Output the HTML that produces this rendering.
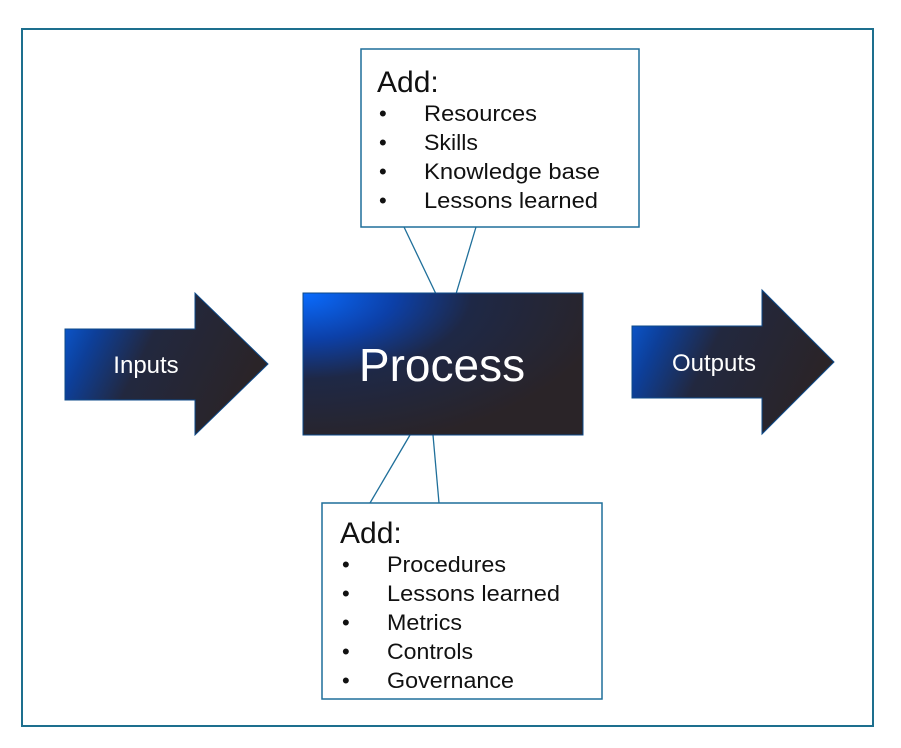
<!DOCTYPE html>
<html><head><meta charset="utf-8"><style>
html,body{margin:0;padding:0;background:#fff;}
svg{display:block;}
text{font-family:"Liberation Sans",Arial,sans-serif;}
</style></head><body>
<svg width="901" height="748" viewBox="0 0 901 748" xmlns="http://www.w3.org/2000/svg">
<defs>
<linearGradient id="g" x1="0" y1="0" x2="1" y2="0.35">
<stop offset="0" stop-color="#0a5fe0"/>
<stop offset="0.22" stop-color="#0d3f99"/>
<stop offset="0.48" stop-color="#22283f"/>
<stop offset="1" stop-color="#2a2428"/>
</linearGradient>
<radialGradient id="pg" cx="0" cy="0" r="1.1" fx="0" fy="0">
<stop offset="0" stop-color="#0a6cff"/>
<stop offset="0.3" stop-color="#0c40a8"/>
<stop offset="0.55" stop-color="#1e2846"/>
<stop offset="1" stop-color="#2a2428"/>
</radialGradient>
</defs>
<rect x="0" y="0" width="901" height="748" fill="#fff"/>
<rect x="22" y="29" width="851" height="697" fill="none" stroke="#1d6f8e" stroke-width="2"/>

<g stroke="#1f6f9a" stroke-width="1.3" fill="none">
<line x1="404" y1="227" x2="436" y2="294"/>
<line x1="476" y1="227" x2="456" y2="294"/>
<line x1="410" y1="435" x2="370" y2="503"/>
<line x1="433" y1="435" x2="439" y2="503"/>
</g>

<rect x="361" y="49" width="278" height="178" fill="#fff" stroke="#1f6f9a" stroke-width="1.5"/>
<text x="377" y="92" font-size="30" fill="#111">Add:</text>
<g font-size="22" fill="#111">
<text x="379" y="121">•</text><text x="424" y="121" textLength="113" lengthAdjust="spacingAndGlyphs">Resources</text>
<text x="379" y="150">•</text><text x="424" y="150" textLength="54" lengthAdjust="spacingAndGlyphs">Skills</text>
<text x="379" y="179">•</text><text x="424" y="179" textLength="176" lengthAdjust="spacingAndGlyphs">Knowledge base</text>
<text x="379" y="208">•</text><text x="424" y="208" textLength="174" lengthAdjust="spacingAndGlyphs">Lessons learned</text>
</g>

<rect x="303" y="293" width="280" height="142" fill="url(#pg)" stroke="#0d4a8a" stroke-width="1"/>
<text x="442" y="381" font-size="46" fill="#fff" text-anchor="middle">Process</text>

<polygon points="65,329 195,329 195,293 268,364 195,435 195,400 65,400" fill="url(#g)" stroke="#0d4a8a" stroke-width="1"/>
<text x="146" y="373" font-size="24" fill="#fff" text-anchor="middle">Inputs</text>

<polygon points="632,326 762,326 762,290 834,362 762,434 762,398 632,398" fill="url(#g)" stroke="#0d4a8a" stroke-width="1"/>
<text x="714" y="371" font-size="24" fill="#fff" text-anchor="middle">Outputs</text>

<rect x="322" y="503" width="280" height="196" fill="#fff" stroke="#1f6f9a" stroke-width="1.5"/>
<text x="340" y="543" font-size="30" fill="#111">Add:</text>
<g font-size="22" fill="#111">
<text x="342" y="572">•</text><text x="387" y="572" textLength="119" lengthAdjust="spacingAndGlyphs">Procedures</text>
<text x="342" y="601">•</text><text x="387" y="601" textLength="173" lengthAdjust="spacingAndGlyphs">Lessons learned</text>
<text x="342" y="630">•</text><text x="387" y="630" textLength="75" lengthAdjust="spacingAndGlyphs">Metrics</text>
<text x="342" y="659">•</text><text x="387" y="659" textLength="86" lengthAdjust="spacingAndGlyphs">Controls</text>
<text x="342" y="688">•</text><text x="387" y="688" textLength="127" lengthAdjust="spacingAndGlyphs">Governance</text>
</g>
</svg>
</body></html>
